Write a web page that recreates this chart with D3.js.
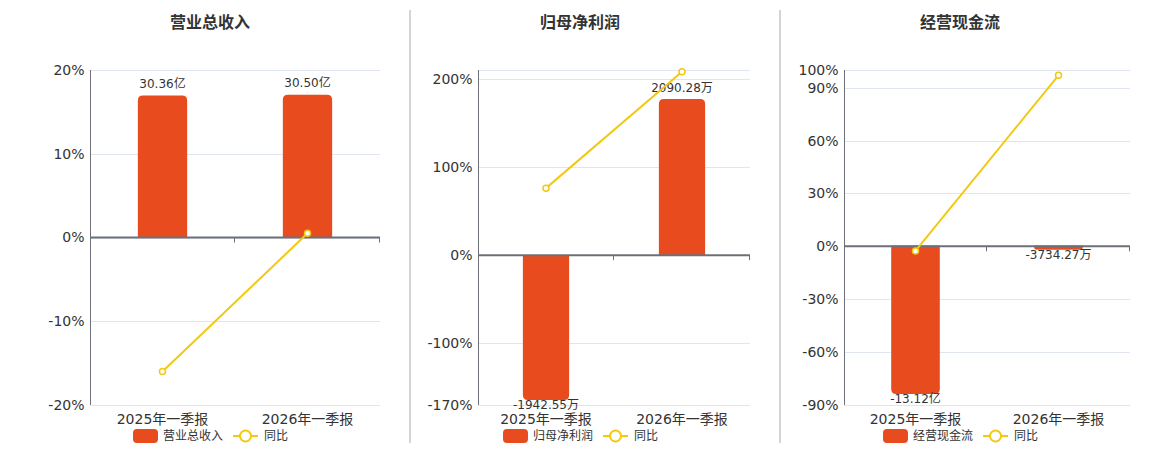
<!DOCTYPE html>
<html><head><meta charset="utf-8">
<script src="https://cdn.jsdelivr.net/npm/d3@7/dist/d3.min.js"></script>
<style>
html,body{margin:0;padding:0;background:#fff;}
text{font-family:"DejaVu Sans","Noto Sans CJK SC",sans-serif;}
</style></head>
<body><svg id="c" width="1160" height="450"></svg>
<script>
const categories = ["2025年一季报", "2026年一季报"];

const revenueValues = [30.36, 30.50];
const revenueLabels = ["30.36亿", "30.50亿"];
const revenueYoY = [-16.0, 0.5];
const revenueTicks = [-20, -10, 0, 10, 20];

const profitValues = [-1942.55, 2090.28];
const profitLabels = ["-1942.55万", "2090.28万"];
const profitYoY = [76, 208];
const profitTicks = [-170, -100, 0, 100, 200];

const cashValues = [-13.12, -0.373427];
const cashLabels = ["-13.12亿", "-3734.27万"];
const cashYoY = [-2.6, 97];
const cashTicks = [-90, -60, -30, 0, 30, 60, 90, 100];

const BAR = "#E84C1E", LINE = "#F2C811", AXIS = "#6E7079", GRID = "#E0E6F1", TXT = "#333";

const panels = [
  {title: "营业总收入", titleX: 210, x0: 90, x1: 380, pct: [-20, 20], bar: [-35.8, 35.8],
   values: revenueValues, labels: revenueLabels, yoy: revenueYoY, ticks: revenueTicks, legendX: 133},
  {title: "归母净利润", titleX: 580, x0: 478, x1: 750, pct: [-170, 210], bar: [-2010, 2480],
   values: profitValues, labels: profitLabels, yoy: profitYoY, ticks: profitTicks, legendX: 503},
  {title: "经营现金流", titleX: 960, x0: 844, x1: 1130, pct: [-90, 100], bar: [-14.1, 15.5],
   values: cashValues, labels: cashLabels, yoy: cashYoY, ticks: cashTicks, legendX: 883}
];

const svg = d3.select("#c");
const Y0 = 70, Y1 = 405;

// dividers
[410, 780].forEach(x => svg.append("line").attr("x1", x).attr("x2", x).attr("y1", 10).attr("y2", 443)
  .attr("stroke", "#aaa").attr("stroke-width", 1));

function roundedBar(x, w, yTop, yBot, r, pos) {
  const h = yBot - yTop;
  r = Math.min(r, h / 2, w / 2);
  if (h <= 0) return "";
  if (pos) {
    return `M${x},${yBot}V${yTop + r}Q${x},${yTop} ${x + r},${yTop}H${x + w - r}Q${x + w},${yTop} ${x + w},${yTop + r}V${yBot}Z`;
  } else {
    return `M${x},${yTop}V${yBot - r}Q${x},${yBot} ${x + r},${yBot}H${x + w - r}Q${x + w},${yBot} ${x + w},${yBot - r}V${yTop}Z`;
  }
}

panels.forEach(p => {
  const g = svg.append("g");
  const xs = d3.scaleBand().domain(categories).range([p.x0, p.x1]);
  const yp = d3.scaleLinear().domain(p.pct).range([Y1, Y0]);
  const yb = d3.scaleLinear().domain(p.bar).range([Y1, Y0]);
  const zeroY = yp(0);

  // title
  g.append("text").attr("x", p.titleX).attr("y", 28).attr("text-anchor", "middle")
    .attr("font-size", 16).attr("font-weight", "bold").attr("fill", TXT).text(p.title);

  // grid
  const gridVals = Array.from(new Set([...p.ticks, p.pct[1]]));
  g.selectAll(".grid").data(gridVals).enter().append("line")
    .attr("x1", p.x0).attr("x2", p.x1).attr("y1", d => Math.round(yp(d)) + 0.5).attr("y2", d => Math.round(yp(d)) + 0.5)
    .attr("stroke", GRID).attr("stroke-width", 1);

  // y axis
  const ya = d3.axisLeft(yp).tickValues(p.ticks).tickFormat(d => d + "%").tickSize(0).tickPadding(6);
  const yag = g.append("g").attr("transform", `translate(${p.x0 + 0.5},0)`).call(ya);
  yag.select(".domain").attr("stroke", AXIS).attr("d", `M0,${Y0}V${Y1}`);
  yag.selectAll("text").attr("font-size", 14).attr("fill", TXT).attr("font-family", "DejaVu Sans");

  // bars
  const bw = xs.bandwidth() * 0.34;
  g.selectAll(".bar").data(p.values).enter().append("path")
    .attr("d", (d, i) => {
      const cx = xs(categories[i]) + xs.bandwidth() / 2;
      const yv = yb(d), yz = yb(0);
      return roundedBar(cx - bw / 2, bw, Math.min(yv, yz), Math.max(yv, yz), 5, d >= 0);
    })
    .attr("fill", BAR);

  // bar labels
  g.selectAll(".bl").data(p.values).enter().append("text")
    .attr("x", (d, i) => xs(categories[i]) + xs.bandwidth() / 2)
    .attr("y", d => d >= 0 ? yb(d) - 11 : yb(d) + 6)
    .attr("dominant-baseline", "middle").attr("text-anchor", "middle")
    .attr("font-size", 12).attr("fill", TXT)
    .text((d, i) => p.labels[i]);

  // x axis at zero
  const xa = d3.axisBottom(xs).tickSize(5).tickFormat("");
  const xag = g.append("g").attr("transform", `translate(0,${zeroY})`);
  xag.append("line").attr("x1", p.x0).attr("x2", p.x1).attr("y1", 0).attr("y2", 0)
    .attr("stroke", AXIS).attr("stroke-width", 2);
  const bounds = [p.x0, ...categories.map(c => xs(c) + xs.bandwidth())];
  xag.selectAll(".tk").data(bounds.slice(1)).enter().append("line")
    .attr("x1", d => Math.round(d) - 0.5).attr("x2", d => Math.round(d) - 0.5)
    .attr("y1", 0).attr("y2", 5).attr("stroke", AXIS).attr("stroke-width", 1);

  // category labels
  g.selectAll(".cl").data(categories).enter().append("text")
    .attr("x", d => xs(d) + xs.bandwidth() / 2).attr("y", 420)
    .attr("dominant-baseline", "middle").attr("text-anchor", "middle")
    .attr("font-size", 14).attr("fill", TXT).text(d => d);

  // line
  const pts = p.yoy.map((v, i) => [xs(categories[i]) + xs.bandwidth() / 2, yp(v)]);
  g.append("path").attr("d", d3.line()(pts)).attr("fill", "none").attr("stroke", LINE).attr("stroke-width", 2);
  g.selectAll(".pt").data(pts).enter().append("circle")
    .attr("cx", d => d[0]).attr("cy", d => d[1]).attr("r", 3)
    .attr("fill", "#fff").attr("stroke", LINE).attr("stroke-width", 1.5);

  // legend
  const lx = p.legendX, ly = 436;
  g.append("rect").attr("x", lx).attr("y", ly - 7).attr("width", 25).attr("height", 14).attr("rx", 4).attr("fill", BAR);
  g.append("text").attr("x", lx + 30).attr("y", ly).attr("dominant-baseline", "middle")
    .attr("font-size", 12).attr("fill", TXT).text(p.title);
  g.append("line").attr("x1", lx + 100).attr("x2", lx + 125).attr("y1", ly).attr("y2", ly)
    .attr("stroke", LINE).attr("stroke-width", 2);
  g.append("circle").attr("cx", lx + 112.5).attr("cy", ly).attr("r", 5.5)
    .attr("fill", "#fff").attr("stroke", LINE).attr("stroke-width", 2);
  g.append("text").attr("x", lx + 131).attr("y", ly).attr("dominant-baseline", "middle")
    .attr("font-size", 12).attr("fill", TXT).text("同比");
});
</script></body></html>
